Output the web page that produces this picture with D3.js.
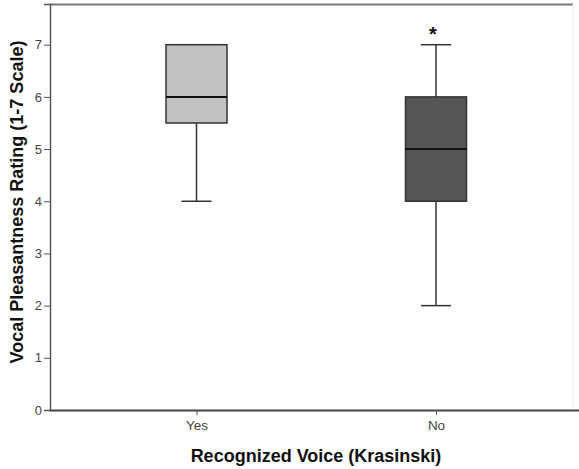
<!DOCTYPE html>
<html><head><meta charset="utf-8">
<script src="https://cdn.jsdelivr.net/npm/d3@7"></script>
<style>body{margin:0;background:#fff}svg{display:block}</style>
</head><body>
<svg id="c" width="579" height="469"></svg>
<script>
const categories = ["Yes", "No"];
const whiskerLow = [4, 2];
const q1 = [5.5, 4];
const median = [6, 5];
const q3 = [7, 6];
const whiskerHigh = [7, 7];
const outliers = [[], [7.3]];
const boxFill = ["#c2c2c2", "#555555"];
const yTicks = [0, 1, 2, 3, 4, 5, 6, 7];

const svg = d3.select("#c");
const L = 50, R = 573, T = 4, B = 410;
const xp = d3.scalePoint().domain(categories).range([196.5, 436]);
const y = d3.scaleLinear().domain([0, 7.78]).range([B, T]);
const FF = "Liberation Sans, Arial, sans-serif";

// frame
svg.append("line").attr("x1", L).attr("x2", R).attr("y1", T + 0.5).attr("y2", T + 0.5).attr("stroke", "#777").attr("stroke-width", 2);
svg.append("line").attr("x1", R).attr("x2", R).attr("y1", T).attr("y2", B).attr("stroke", "#eee").attr("stroke-width", 1);

const yAxis = svg.append("g").attr("transform", `translate(${L},0)`)
  .call(d3.axisLeft(y).tickValues(yTicks).tickSize(6).tickFormat(d3.format("d")));
yAxis.select(".domain").attr("stroke", "#555").attr("stroke-width", 1.5);
yAxis.selectAll(".tick line").attr("stroke", "#555");
yAxis.selectAll("text").attr("fill", "#444").style("font-family", FF).style("font-size", "13px").attr("x", -8);

const xAxis = svg.append("g").attr("transform", `translate(0,${B})`)
  .call(d3.axisBottom(xp).tickSize(5).tickSizeOuter(0));
xAxis.select(".domain").attr("d", `M${L},0.5H579`).attr("stroke", "#444").attr("stroke-width", 2);
xAxis.selectAll(".tick line").attr("stroke", "#555");
xAxis.selectAll("text").attr("fill", "#444").style("font-family", FF).style("font-size", "13.5px").attr("y", 10);

const bw = 61, cw = 30;
categories.forEach((c, i) => {
  const cx = xp(c);
  const g = svg.append("g").attr("stroke", "#333").attr("stroke-width", 1.5);
  g.append("line").attr("x1", cx).attr("x2", cx).attr("y1", y(whiskerLow[i])).attr("y2", y(q1[i]));
  g.append("line").attr("x1", cx).attr("x2", cx).attr("y1", y(q3[i])).attr("y2", y(whiskerHigh[i]));
  g.append("line").attr("x1", cx - cw / 2).attr("x2", cx + cw / 2).attr("y1", y(whiskerLow[i])).attr("y2", y(whiskerLow[i]));
  g.append("line").attr("x1", cx - cw / 2).attr("x2", cx + cw / 2).attr("y1", y(whiskerHigh[i])).attr("y2", y(whiskerHigh[i]));
  g.append("rect").attr("x", cx - bw / 2).attr("width", bw).attr("y", y(q3[i])).attr("height", y(q1[i]) - y(q3[i])).attr("fill", boxFill[i]);
  g.append("line").attr("x1", cx - bw / 2).attr("x2", cx + bw / 2).attr("y1", y(median[i])).attr("y2", y(median[i])).attr("stroke", "#111").attr("stroke-width", 2);
  outliers[i].forEach(v => {
    svg.append("text").attr("x", cx - 3).attr("y", y(v) + 12).attr("text-anchor", "middle")
      .style("font-family", FF).style("font-size", "20px").style("font-weight", "bold").attr("fill", "#111").text("*");
  });
});

svg.append("text").attr("x", 316).attr("y", 462).attr("text-anchor", "middle")
  .style("font-family", FF).style("font-size", "18px").style("font-weight", "bold").attr("fill", "#111")
  .text("Recognized Voice (Krasinski)");
svg.append("text").attr("transform", "translate(23,202) rotate(-90)").attr("text-anchor", "middle")
  .style("font-family", FF).style("font-size", "18px").style("font-weight", "bold").attr("fill", "#111")
  .text("Vocal Pleasantness Rating (1-7 Scale)");
</script>
</body></html>
